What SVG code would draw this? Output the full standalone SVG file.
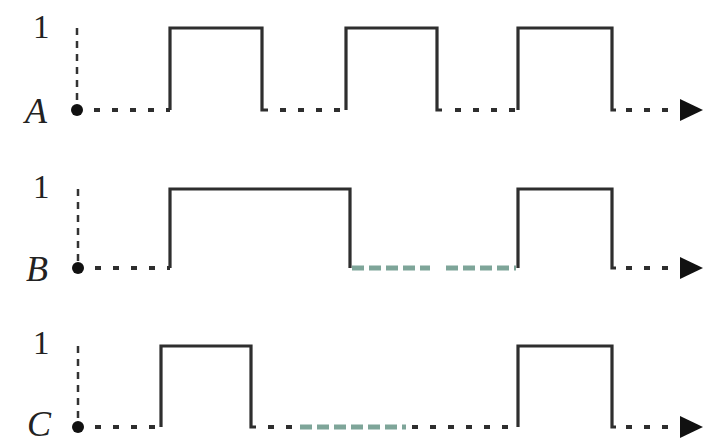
<svg xmlns="http://www.w3.org/2000/svg" width="715" height="444" viewBox="0 0 715 444">
<style>
.sig{fill:none;stroke:#2e2e2e;stroke-width:3.2;stroke-linejoin:miter}
.dot{stroke:#2e2e2e;stroke-width:3.8;stroke-dasharray:6 12;fill:none}
.vd{stroke:#333;stroke-width:2.5;stroke-dasharray:7 6;fill:none}
.grn{stroke:#5e8f80;stroke-width:5;stroke-dasharray:12 5;fill:none;opacity:0.8}
.lbl{font-family:"Liberation Serif",serif;font-style:italic;font-size:36px;fill:#222}
.one{font-family:"Liberation Serif",serif;font-size:33px;fill:#222}
.pt{fill:#111}
.ah{fill:#111}
</style>
<g id="rowA">
<text class="one" x="33" y="38">1</text>
<text class="lbl" x="25" y="123">A</text>
<line class="vd" x1="77" y1="28" x2="77" y2="104"/>
<circle class="pt" cx="77" cy="110" r="6"/>
</g>
<g id="rowB">
<text class="one" x="33" y="198">1</text>
<text class="lbl" x="26" y="281">B</text>
<line class="vd" x1="78" y1="189" x2="78" y2="262"/>
<circle class="pt" cx="78" cy="268" r="6"/>
</g>
<g id="rowC">
<text class="one" x="33" y="354">1</text>
<text class="lbl" x="27" y="436" font-size="34">C</text>
<line class="vd" x1="78" y1="346" x2="78" y2="421"/>
<circle class="pt" cx="78" cy="427" r="6"/>
</g>
<g id="connectors">
<line class="dot" x1="94" y1="110" x2="170" y2="110"/>
<polyline class="sig" points="170,110 170,28 262,28 262,110 268,110"/>
<line class="dot" x1="280" y1="110" x2="346" y2="110"/>
<polyline class="sig" points="346,110 346,28 437,28 437,110 442,110"/>
<line class="dot" x1="455" y1="110" x2="518" y2="110"/>
<polyline class="sig" points="518,110 518,28 612,28 612,110 616,110"/>
<line class="dot" x1="626" y1="110" x2="682" y2="110"/>
<polygon class="ah" points="680,99 703,110 680,121"/>

<line class="dot" x1="95" y1="268" x2="170" y2="268"/>
<polyline class="sig" points="170,268 170,189 350,189 350,268"/>
<line class="grn" x1="352" y1="268" x2="430" y2="268"/>
<line class="grn" x1="446" y1="268" x2="516" y2="268"/>
<polyline class="sig" points="518,268 518,189 612,189 612,268 616,268"/>
<line class="dot" x1="626" y1="268" x2="682" y2="268"/>
<polygon class="ah" points="680,257 703,268 680,279"/>

<line class="dot" x1="95" y1="427" x2="161" y2="427"/>
<polyline class="sig" points="161,427 161,346 251,346 251,427 256,427"/>
<line class="dot" x1="268" y1="427" x2="300" y2="427"/>
<line class="grn" x1="300" y1="427" x2="406" y2="427"/>
<line class="dot" x1="412" y1="427" x2="518" y2="427"/>
<polyline class="sig" points="518,427 518,346 612,346 612,427 616,427"/>
<line class="dot" x1="626" y1="427" x2="682" y2="427"/>
<polygon class="ah" points="680,416 703,427 680,438"/>
</g>
</svg>
